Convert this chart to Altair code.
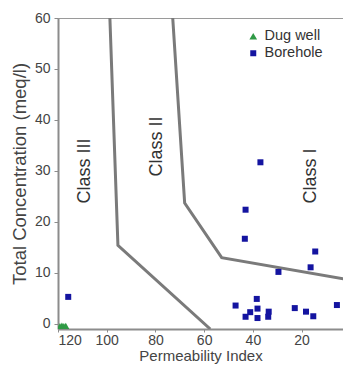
import altair as alt
import pandas as pd

# Boreholes (Permeability Index, Total Concentration)
bore_pi = [36.9, 43.0, 43.3, 14.4, 16.3, 29.5, 47.1, 38.4, 38.1, 41.1, 43.0, 38.1, 33.5, 33.7, 22.8, 18.2, 15.2, 5.5, 115.8]
bore_tc = [31.7, 22.4, 16.7, 14.2, 11.1, 10.2, 3.6, 4.9, 3.0, 2.3, 1.4, 1.15, 2.4, 1.4, 3.1, 2.4, 1.5, 3.7, 5.3]
# Dug wells
dug_pi = [119.2, 118.4, 117.6, 116.8]
dug_tc = [-0.5, -0.4, -0.5, -0.45]

# Class boundary lines
line_id = ["A", "A", "A", "B", "B", "B", "B"]
line_pi = [98.7, 95.4, 57.5, 72.9, 68.0, 52.8, 0.0]
line_tc = [60.0, 15.4, -1.0, 60.0, 23.7, 13.0, 8.6]

class_names = ["Class III", "Class II", "Class I"]
class_pi = [109.0, 79.5, 16.0]
class_tc = [30.0, 34.8, 29.0]

x_ticks = [120, 100, 80, 60, 40, 20, 0]
y_ticks = [0, 10, 20, 30, 40, 50, 60]

pts = pd.DataFrame({
    "pi": dug_pi + bore_pi,
    "tc": dug_tc + bore_tc,
    "type": ["Dug well"] * len(dug_pi) + ["Borehole"] * len(bore_pi),
})
lines = pd.DataFrame({"id": line_id, "pi": line_pi, "tc": line_tc, "o": list(range(len(line_id)))})
labels = pd.DataFrame({"name": class_names, "pi": class_pi, "tc": class_tc})

xs = alt.Scale(domain=[120, 3], nice=False, zero=False)
ys = alt.Scale(domain=[-1, 60], nice=False, zero=False)

xax = alt.Axis(values=x_ticks, title="Permeability Index", grid=False, labelFontSize=14,
               titleFontSize=15, labelPadding=1, titlePadding=1, tickSize=3)
yax = alt.Axis(values=y_ticks, title="Total Concentration (meq/l)", grid=False, labelFontSize=14,
               titleFontSize=18.5, labelPadding=4, titlePadding=5, tickSize=4)

line_layer = alt.Chart(lines).mark_line(color="#7a7a7a", strokeWidth=3, clip=True).encode(
    x=alt.X("pi:Q", scale=xs, axis=xax),
    y=alt.Y("tc:Q", scale=ys, axis=yax),
    detail="id:N",
    order="o:Q",
)

text_layer = alt.Chart(labels).mark_text(angle=270, fontSize=18, color="#333333", font="Liberation Sans").encode(
    x=alt.X("pi:Q", scale=xs),
    y=alt.Y("tc:Q", scale=ys),
    text="name:N",
)

pt_layer = alt.Chart(pts).mark_point(filled=True, opacity=1, clip=True).encode(
    x=alt.X("pi:Q", scale=xs),
    y=alt.Y("tc:Q", scale=ys),
    shape=alt.Shape("type:N", scale=alt.Scale(domain=["Dug well", "Borehole"], range=["triangle-up", "square"]),
                    legend=alt.Legend(title=None, orient="none", legendX=188, legendY=11)),
    color=alt.Color("type:N", scale=alt.Scale(domain=["Dug well", "Borehole"], range=["#2f9a45", "#1414a0"]),
                    legend=alt.Legend(title=None, orient="none", legendX=188, legendY=11)),
    size=alt.Size("type:N", scale=alt.Scale(domain=["Dug well", "Borehole"], range=[60, 36]), legend=None),
)

chart = alt.layer(line_layer, text_layer, pt_layer).properties(
    width=285,
    height=311,
    padding={"left": 50, "top": 10, "right": 0, "bottom": 35},
    autosize=alt.AutoSizeParams(type="none"),
).configure_view(
    stroke="#9a9a9a", strokeWidth=1
).configure_axis(
    domainColor="#8c8c8c", domainWidth=2, tickColor="#8c8c8c",
    labelFont="Liberation Sans", labelColor="#444444",
    titleFont="Liberation Sans", titleColor="#444444", titleFontWeight="normal",
).configure_legend(
    labelFont="Liberation Sans", labelFontSize=14.5, labelColor="#333333", symbolSize=80, rowPadding=2,
)

chart.save("out.html", embed_options={"renderer": "svg", "actions": False})
